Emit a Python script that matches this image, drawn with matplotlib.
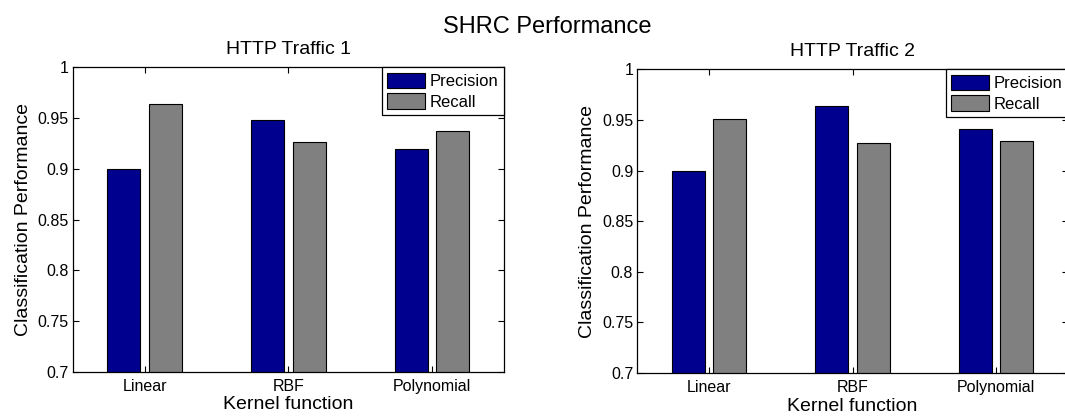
import numpy as np
import matplotlib
matplotlib.use('Agg')
import matplotlib.pyplot as plt

plt.rcParams['font.family'] = ['Liberation Sans', 'DejaVu Sans']

kernels = ["Linear", "RBF", "Polynomial"]
series = ["Precision", "Recall"]
titles = ["HTTP Traffic 1", "HTTP Traffic 2"]

prec_1 = [0.8995, 0.9485, 0.9198]
rec_1 = [0.9635, 0.926, 0.9369]
prec_2 = [0.900, 0.9635, 0.9407]
rec_2 = [0.9505, 0.927, 0.9295]

colors = ["#00008F", "#808080"]

W, H = 1065, 416
fig = plt.figure(figsize=(W / 100, H / 100), dpi=100)

# axes boxes in pixels: left, top, right, bottom
boxes = [(72.7, 67.3, 503.7, 371.7), (637.3, 69.3, 1067.8, 373)]

x = np.arange(1, len(kernels) + 1)
bw = 0.23
off = 0.145

for (l, t, r, b), title, prec, rec in zip(boxes, titles, [prec_1, prec_2], [rec_1, rec_2]):
    ax = fig.add_axes([l / W, (H - b) / H, (r - l) / W, (b - t) / H])
    ax.bar(x - off, prec, bw, color=colors[0], edgecolor="black", lw=0.8, label=series[0])
    ax.bar(x + off, rec, bw, color=colors[1], edgecolor="black", lw=0.8, label=series[1])
    ax.set_xlim(0.5, 3.5)
    ax.set_ylim(0.7, 1.0)
    ax.set_xticks(x)
    ax.set_xticklabels(kernels, fontsize=11.5)
    ax.set_yticks([0.7, 0.75, 0.8, 0.85, 0.9, 0.95, 1.0])
    ax.set_yticklabels(["0.7", "0.75", "0.8", "0.85", "0.9", "0.95", "1"], fontsize=11.5)
    ax.tick_params(direction="in", length=4, width=0.8, top=True, right=True, pad=3)
    ax.tick_params(axis="x", pad=5)
    ax.set_xlabel("Kernel function", fontsize=14, labelpad=2)
    ax.set_ylabel("Classification Performance", fontsize=14, labelpad=4)
    ax.set_title(title, fontsize=14, pad=9.4)
    for s in ax.spines.values():
        s.set_linewidth(0.9)
    leg = ax.legend(loc="upper right", fontsize=12, borderaxespad=0, fancybox=False,
                    framealpha=1, edgecolor="black", handlelength=2.26, handleheight=1.08,
                    handletextpad=0.3, borderpad=0.32, labelspacing=0.25)
    leg.get_frame().set_linewidth(0.9)

fig.text(547 / W, 1 - 33.3 / H, "SHRC Performance", fontsize=17, ha="center", va="baseline")

plt.savefig("out.png", dpi=100)
plt.close()
